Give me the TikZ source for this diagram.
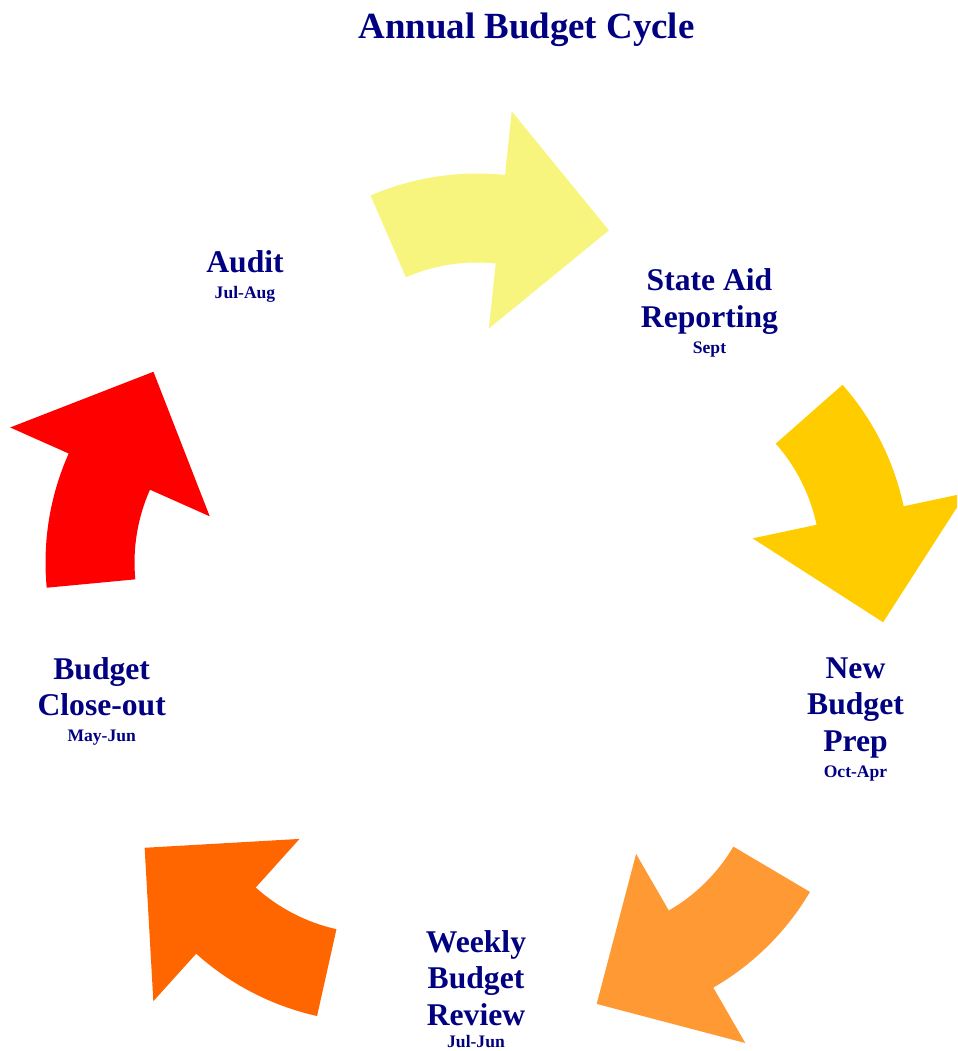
\documentclass[tikz,border=0pt]{standalone}
\usepackage{fontspec}
\setmainfont{Liberation Serif}

\definecolor{navy}{RGB}{0,0,128}
\definecolor{cycleyellow}{RGB}{248,245,126}
\definecolor{cyclegold}{RGB}{255,204,0}
\definecolor{cycleorange}{RGB}{255,153,51}
\definecolor{cycledarkorange}{RGB}{255,102,0}
\definecolor{cyclered}{RGB}{255,0,0}

\tikzset{
	heading/.style={text=navy, font=\bfseries\fontsize{21}{25}\selectfont, inner sep=0pt, anchor=base},
	stage/.style={text=navy, font=\bfseries\fontsize{18}{20.6}\selectfont, align=center, inner sep=0pt, anchor=base},
	period/.style={text=navy, font=\bfseries\fontsize{10}{12}\selectfont, inner sep=0pt, anchor=base}
}

\begin{document}
\begin{tikzpicture}[x=0.02cm, y=0.02cm]
			\useasboundingbox (0,0) rectangle (957,-1051);
			\clip (0,0) rectangle (957,-1051);
			% arrows: outer radius 268, inner 179, head 113.6 to 332
			\fill [cycleyellow, shift={(477,-441.5)}] (113.4:268) arc[start angle=113.4, end angle=84, radius=268] -- (84:332) -- (58:249) -- (84:113.6) -- (84:179) arc[start angle=84, end angle=113.4, radius=179] -- cycle;
			\fill [cyclegold, shift={(641.5,-562)}] (41.4:268) arc[start angle=41.4, end angle=12, radius=268] -- (12:332) -- (-14:249) -- (12:113.6) -- (12:179) arc[start angle=12, end angle=41.4, radius=179] -- cycle;
			\fill [cycleorange, shift={(579.3,-755.5)}] (-30.6:268) arc[start angle=-30.6, end angle=-60, radius=268] -- (-60:332) -- (-86:249) -- (-60:113.6) -- (-60:179) arc[start angle=-60, end angle=-30.6, radius=179] -- cycle;
			\fill [cycledarkorange, shift={(375.5,-754.5)}] (-102.6:268) arc[start angle=-102.6, end angle=-132, radius=268] -- (-132:332) -- (-158:249) -- (-132:113.6) -- (-132:179) arc[start angle=-132, end angle=-102.6, radius=179] -- cycle;
			\fill [cyclered, shift={(313.5,-562.5)}] (185.4:268) arc[start angle=185.4, end angle=156, radius=268] -- (156:332) -- (130:249) -- (156:113.6) -- (156:179) arc[start angle=156, end angle=185.4, radius=179] -- cycle;
			% labels
			\node [heading] (title) at (526.5,-38.5) {Annual Budget Cycle};
			\node [stage] (audit) at (245,-272) {Audit};
			\node [period] (auditdate) at ([yshift=-0.54cm]audit.base) {Jul-Aug};
			\node [stage] (stateaid) at (709.5,-327) {State Aid\\Reporting};
			\node [period] (stateaiddate) at ([yshift=-0.54cm]stateaid.base) {Sept};
			\node [stage] (newprep) at (855.5,-751) {New\\Budget\\Prep};
			\node [period] (newprepdate) at ([yshift=-0.52cm]newprep.base) {Oct-Apr};
			\node [stage] (weekly) at (476,-1025) {Weekly\\Budget\\Review};
			\node [period] (weeklydate) at ([yshift=-0.45cm]weekly.base) {Jul-Jun};
			\node [stage] (closeout) at (101.7,-715.5) {Budget\\Close-out};
			\node [period] (closeoutdate) at ([yshift=-0.52cm]closeout.base) {May-Jun};
	\end{tikzpicture}
\end{document}
